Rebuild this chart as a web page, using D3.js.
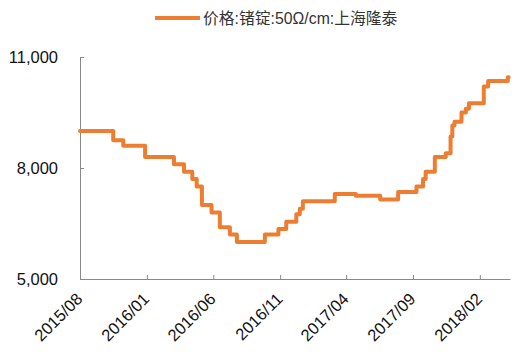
<!DOCTYPE html>
<html>
<head>
<meta charset="utf-8">
<script src="https://cdn.jsdelivr.net/npm/d3@7"></script>
<style>
  html, body { margin: 0; padding: 0; background: #fff; }
  svg { display: block; font-family: "Liberation Sans", Arial, "Noto Sans CJK SC", sans-serif; }
</style>
</head>
<body>
<svg id="chart" width="520" height="356"></svg>
<script>
const seriesName = "价格:锗锭:50Ω/cm:上海隆泰";
const dates = [
  "2015-08-01","2015-10-16","2015-11-08","2015-12-28","2016-03-03","2016-03-26",
  "2016-04-14","2016-04-24","2016-05-06","2016-05-28","2016-06-16","2016-07-09",
  "2016-07-25","2016-09-27","2016-10-28","2016-11-15","2016-12-08","2016-12-16",
  "2016-12-23","2017-03-06","2017-04-23","2017-06-18","2017-07-29","2017-09-09",
  "2017-09-24","2017-09-30","2017-10-21","2017-11-15","2017-11-26","2017-11-30",
  "2017-12-05","2017-12-21","2017-12-31","2018-01-07","2018-02-10","2018-02-20",
  "2018-04-06","2018-04-08"
];
const prices = [
  9000, 8750, 8600, 8300, 8100, 7900,
  7700, 7500, 7000, 6800, 6400, 6200,
  6000, 6200, 6350, 6550, 6750, 6900,
  7100, 7300, 7250, 7150, 7350, 7500,
  7700, 7900, 8300, 8400, 8850, 9150,
  9250, 9500, 9600, 9750, 10200, 10350,
  10450, 10450
];
const xTickLabels = ["2015/08","2016/01","2016/06","2016/11","2017/04","2017/09","2018/02"];
const yTickValues = [5000, 8000, 11000];

const parse = d3.timeParse("%Y-%m-%d");
const parseTick = d3.timeParse("%Y/%m");
const data = dates.map((d, i) => ({ date: parse(d), value: prices[i] }));

const svg = d3.select("#chart");
const mLeft = 80, mRight = 510, mTop = 57, mBottom = 279;
const color = "#ED7D31";
const axisColor = "#898989";

const x = d3.scaleTime()
  .domain([parse("2015-08-01"), parse("2018-04-11")])
  .range([mLeft, mRight]);
const y = d3.scaleLinear().domain([5000, 11000]).range([mBottom, mTop]);

// Legend
const lg = svg.append("g");
lg.append("line").attr("x1", 155).attr("x2", 200).attr("y1", 18).attr("y2", 18)
  .attr("stroke", color).attr("stroke-width", 4);
lg.append("text").attr("x", 203).attr("y", 23.5).attr("font-size", 15.8)
  .attr("fill", "#333").text(seriesName);

// Y axis
const yAxis = d3.axisLeft(y).tickValues(yTickValues).tickSize(-4)
  .tickFormat(d3.format(","));
const gy = svg.append("g").attr("transform", `translate(${mLeft},0)`).call(yAxis);
gy.select(".domain").attr("stroke", axisColor);
gy.selectAll(".tick line").attr("stroke", axisColor);
gy.selectAll(".tick text").attr("x", -22).attr("font-size", 16.5)
  .attr("fill", "#111").attr("font-family", "Liberation Sans, Arial, sans-serif");

// X axis
const xTicks = xTickLabels.map(s => parseTick(s));
const xAxis = d3.axisBottom(x).tickValues(xTicks).tickSize(-4).tickSizeOuter(0)
  .tickFormat(d3.timeFormat("%Y/%m"));
const gx = svg.append("g").attr("transform", `translate(0,${mBottom})`).call(xAxis);
gx.select(".domain").attr("stroke", axisColor);
gx.selectAll(".tick line").attr("stroke", axisColor);
gx.selectAll(".tick text")
  .attr("y", 0).attr("dy", 0)
  .attr("transform", "translate(3,21) rotate(-45)")
  .attr("text-anchor", "end")
  .attr("font-size", 16.5)
  .attr("fill", "#111")
  .attr("font-family", "Liberation Sans, Arial, sans-serif");

// Line
const line = d3.line().x(d => x(d.date)).y(d => y(d.value)).curve(d3.curveStepAfter);
svg.append("path").datum(data)
  .attr("fill", "none").attr("stroke", color).attr("stroke-width", 4)
  .attr("stroke-linejoin", "round").attr("stroke-linecap", "round")
  .attr("d", line);
</script>
</body>
</html>
